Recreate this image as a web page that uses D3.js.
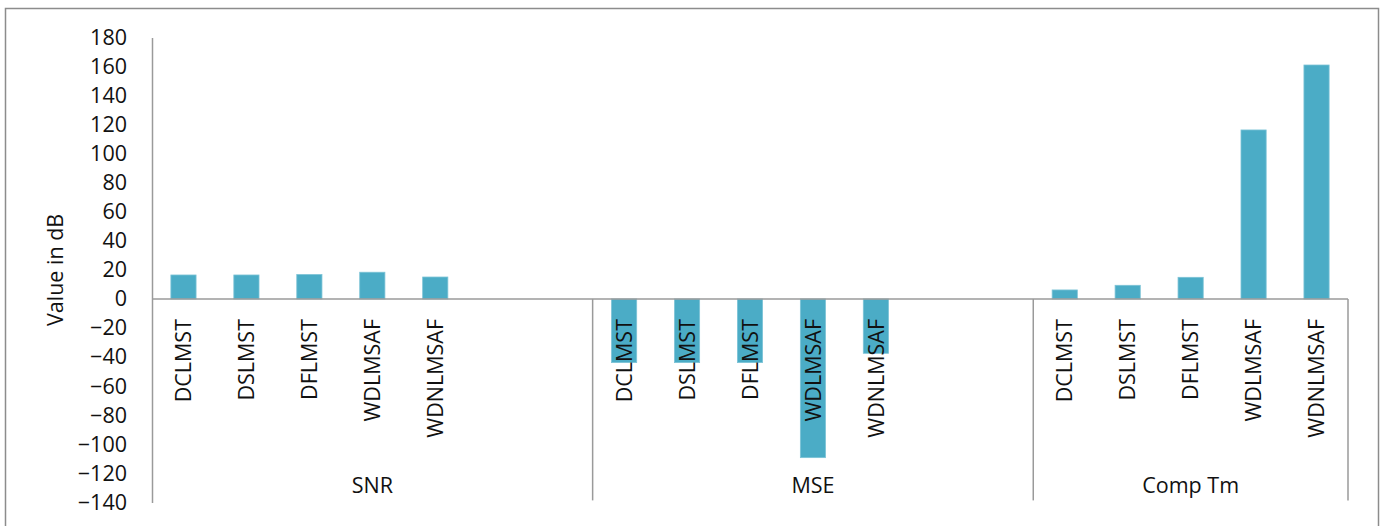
<!DOCTYPE html>
<html>
<head>
<meta charset="utf-8">
<script src="https://cdn.jsdelivr.net/npm/d3@7"></script>
<style>
  html, body { margin: 0; padding: 0; background: #fff; }
  svg { display: block; }
  text { font-family: "Open Sans", "Noto Sans", sans-serif; fill: #111; }
</style>
</head>
<body>
<svg id="chart" width="1384" height="526"></svg>
<script>
// Metric groups and the filters compared in each group
const groups = ["SNR", "MSE", "Comp Tm"];
const methods = ["DCLMST", "DSLMST", "DFLMST", "WDLMSAF", "WDNLMSAF"];
// Category slots per group (the first two groups carry two empty rows)
const slotsPerGroup = [7, 7, 5];

const snrValues  = [16.5, 16.5, 16.8, 18.4, 15.1];
const mseValues  = [-43.8, -43.8, -43.8, -109.2, -37.4];
const compValues = [6.2, 9.4, 14.9, 116.3, 161.0];
const seriesValues = [snrValues, mseValues, compValues];

const yTicks = [-140, -120, -100, -80, -60, -40, -20, 0, 20, 40, 60, 80, 100, 120, 140, 160, 180];
const yTitle = "Value in dB";

const svg = d3.select("#chart");
const plot = { left: 152, right: 1348, top: 37.4, bottom: 502.4 };
const lineColor = "#9a9a9a";
const barColor = "#4bacc6";
const fontSize = 21.5;

// Build the slot keys: group|index, including the empty slots
const slots = [];
groups.forEach((g, gi) => {
  for (let i = 0; i < slotsPerGroup[gi]; i++) slots.push(g + "|" + i);
});
const rows = [];
groups.forEach((g, gi) => {
  methods.forEach((m, mi) => rows.push({ group: g, method: m, key: g + "|" + mi, value: seriesValues[gi][mi] }));
});

const x = d3.scaleBand().domain(slots).range([plot.left, plot.right]).paddingInner(0).paddingOuter(0);
const y = d3.scaleLinear().domain([-140, 180]).range([plot.bottom, plot.top]);
const barW = x.bandwidth() * 0.4;

// Outer chart frame
svg.append("rect")
  .attr("x", 5.5).attr("y", 8.5).attr("width", 1373).attr("height", 540)
  .attr("fill", "none").attr("stroke", "#8c8c8c").attr("stroke-width", 1.5);

// Bars
svg.append("g").selectAll("rect").data(rows).join("rect")
  .attr("x", d => x(d.key) + (x.bandwidth() - barW) / 2)
  .attr("y", d => y(Math.max(0, d.value)))
  .attr("width", barW)
  .attr("height", d => Math.abs(y(d.value) - y(0)))
  .attr("fill", barColor)
  .attr("stroke", "#7cc3d6").attr("stroke-width", 0.8);

// Value axis
const yAxis = d3.axisLeft(y).tickValues(yTicks).tickSize(0).tickPadding(25).tickFormat(d3.format("d"));
const ya = svg.append("g").attr("transform", `translate(${plot.left},0)`).call(yAxis);
ya.select(".domain").attr("stroke", lineColor).attr("stroke-width", 1.5);
ya.selectAll("text").style("font-size", fontSize + "px").attr("fill", "#111")
  .style("font-family", '"Open Sans", sans-serif');

// Zero line
svg.append("line")
  .attr("x1", plot.left).attr("x2", plot.right)
  .attr("y1", y(0)).attr("y2", y(0))
  .attr("stroke", lineColor).attr("stroke-width", 1.5);

// Group separators below the zero line
let acc = 0;
const sepX = [];
slotsPerGroup.forEach(n => { acc += n; sepX.push(x(slots[acc - 1]) + x.bandwidth()); });
svg.append("g").selectAll("line").data(sepX).join("line")
  .attr("x1", d => d).attr("x2", d => d)
  .attr("y1", y(0)).attr("y2", plot.bottom - 2)
  .attr("stroke", lineColor).attr("stroke-width", 1.5);

// Method labels, rotated
svg.append("g").selectAll("text").data(rows).join("text")
  .attr("transform", d => `translate(${x(d.key) + x.bandwidth() / 2},319) rotate(-90)`)
  .attr("text-anchor", "end")
  .attr("dy", "0.36em")
  .style("font-size", fontSize + "px")
  .text(d => d.method);

// Group labels
let start = 0;
const groupPos = groups.map((g, gi) => {
  const first = x(slots[start]);
  start += slotsPerGroup[gi];
  const last = x(slots[start - 1]) + x.bandwidth();
  return { g, cx: (first + last) / 2 };
});
svg.append("g").selectAll("text").data(groupPos).join("text")
  .attr("x", d => d.cx).attr("y", 485)
  .attr("dy", "0.36em")
  .attr("text-anchor", "middle")
  .style("font-size", fontSize + "px")
  .text(d => d.g);

// Axis title
svg.append("text")
  .attr("transform", `translate(55,${(plot.top + plot.bottom) / 2}) rotate(-90)`)
  .attr("text-anchor", "middle")
  .attr("dy", "0.36em")
  .style("font-size", fontSize + "px")
  .text(yTitle);
</script>
</body>
</html>
